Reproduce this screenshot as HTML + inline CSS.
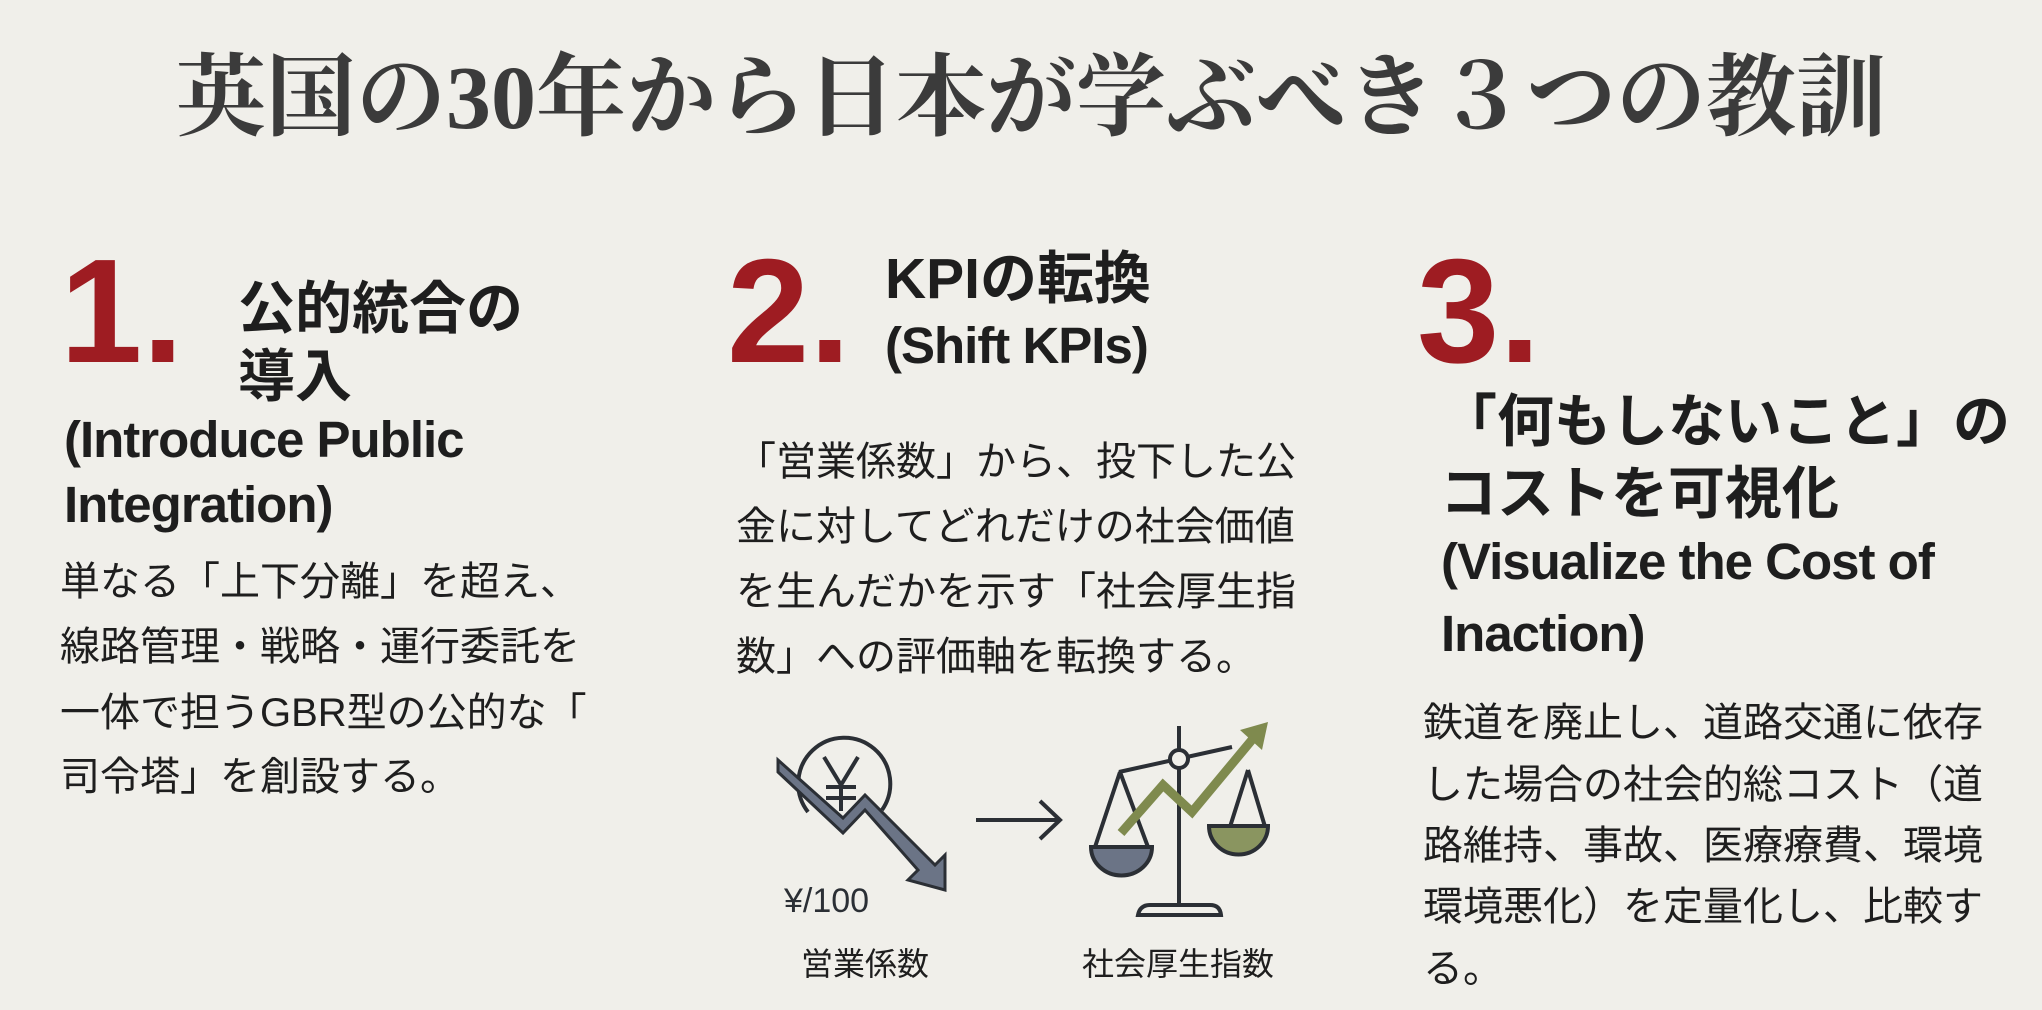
<!DOCTYPE html>
<html><head><meta charset="utf-8"><style>
body{margin:0;width:2042px;height:1010px;background:#f0efea;overflow:hidden;position:relative;font-family:"Liberation Sans","Noto Sans CJK JP",sans-serif;color:#1e1e1e}
.a{position:absolute;white-space:nowrap}
.t{font-family:"Liberation Serif","Noto Serif CJK JP",serif;font-size:90px;line-height:90px;color:#3b3b3b;left:10px;width:2042px;text-align:center;top:54px;font-weight:bold}
.n{font-size:148px;line-height:148px;font-weight:bold;color:#9e1c22}
.h{font-size:57px;line-height:57px;font-weight:bold}
.e{font-size:51px;line-height:51px;font-weight:bold;letter-spacing:-1px}
.b{font-size:40px;line-height:40px}
</style></head><body>
<div class="a t">英国の30年から日本が学ぶべき３つの教訓</div>

<div class="a n" style="left:60px;top:238px">1.</div>
<div class="a h" style="left:238px;top:281px">公的統合の</div>
<div class="a h" style="left:238px;top:349px">導入</div>
<div class="a e" style="left:64px;top:414px">(Introduce Public</div>
<div class="a e" style="left:64px;top:479px">Integration)</div>
<div class="a b" style="left:60px;top:562px">単なる「上下分離」を超え、</div>
<div class="a b" style="left:60px;top:627px">線路管理・戦略・運行委託を</div>
<div class="a b" style="left:60px;top:693px">一体で担うGBR型の公的な「</div>
<div class="a b" style="left:60px;top:757px">司令塔」を創設する。</div>

<div class="a n" style="left:727px;top:238px">2.</div>
<div class="a h" style="left:885px;top:251px">KPIの転換</div>
<div class="a e" style="left:885px;top:320px">(Shift KPIs)</div>
<div class="a b" style="left:736px;top:442px">「営業係数」から、投下した公</div>
<div class="a b" style="left:736px;top:507px">金に対してどれだけの社会価値</div>
<div class="a b" style="left:736px;top:572px">を生んだかを示す「社会厚生指</div>
<div class="a b" style="left:736px;top:637px">数」への評価軸を転換する。</div>

<svg class="a" style="left:0;top:0" width="2042" height="1010">
<path d="M808,812 A46,46 0 1 1 882,810" fill="none" stroke="#2b2f35" stroke-width="4"/>
<path d="M824,757 L841,785 L858,757 M841,785 L841,811 M826,787 H856 M826,798 H856" fill="none" stroke="#2b2f35" stroke-width="4"/>
<path d="M778,772 L843,833 L865,810 L918,870 L908,880 L945,890 L945,855 L935,865 L865,795 L843,818 L778,760 Z" fill="#6b7486" stroke="#2b2f35" stroke-width="3"/>
<path d="M976,820 H1058 M1040,801 L1060,820 L1040,839" fill="none" stroke="#2b2f35" stroke-width="4"/>
<path d="M1179,726 V906 M1119,772 L1232,747 M1120,772 L1095,847 M1120,772 L1148,847 M1248,770 L1229,830 M1248,770 L1266,830" fill="none" stroke="#2b2f35" stroke-width="4"/>
<circle cx="1179" cy="759" r="9" fill="#f0efea" stroke="#2b2f35" stroke-width="4"/>
<path d="M1091,847 H1152 A30,28 0 0 1 1091,847 Z" fill="#6b7486" stroke="#2b2f35" stroke-width="4"/>
<path d="M1209,826 H1268 A29,28 0 0 1 1209,826 Z" fill="#8a9560" stroke="#2b2f35" stroke-width="4"/>
<path d="M1138,915 Q1140,905 1150,905 H1210 Q1220,905 1221,915 Z" fill="none" stroke="#2b2f35" stroke-width="4"/>
<path d="M1121,833 L1163,785 L1192,812 L1256,735" fill="none" stroke="#7f8a4e" stroke-width="9"/>
<path d="M1268,722 L1240,730 L1262,750 Z" fill="#7f8a4e"/>
</svg>
<div class="a" style="left:784px;top:884px;font-size:34px;line-height:34px;color:#2b2f35">¥/100</div>
<div class="a" style="left:801px;top:948px;font-size:32px;line-height:32px">営業係数</div>
<div class="a" style="left:1082px;top:948px;font-size:32px;line-height:32px">社会厚生指数</div>

<div class="a n" style="left:1417px;top:238px">3.</div>
<div class="a h" style="left:1440px;top:394px">「何もしないこと」の</div>
<div class="a h" style="left:1440px;top:466px">コストを可視化</div>
<div class="a e" style="left:1441px;top:536px">(Visualize the Cost of</div>
<div class="a e" style="left:1441px;top:608px">Inaction)</div>
<div class="a b" style="left:1423px;top:703px">鉄道を廃止し、道路交通に依存</div>
<div class="a b" style="left:1423px;top:765px">した場合の社会的総コスト（道</div>
<div class="a b" style="left:1423px;top:826px">路維持、事故、医療療費、環境</div>
<div class="a b" style="left:1423px;top:887px">環境悪化）を定量化し、比較す</div>
<div class="a b" style="left:1423px;top:949px">る。</div>
</body></html>
